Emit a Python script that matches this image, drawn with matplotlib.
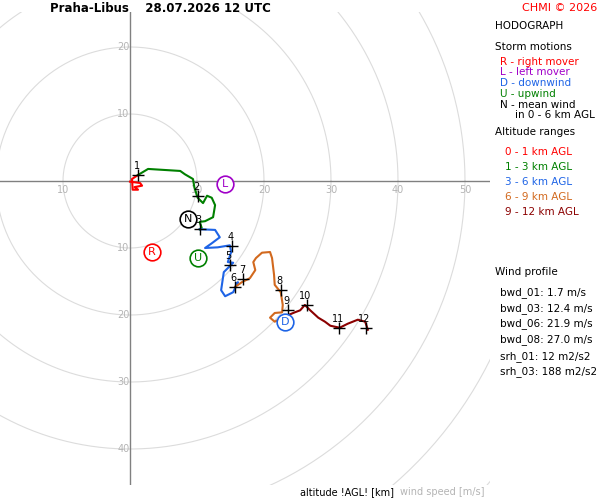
import matplotlib.pyplot as plt
import numpy as np

# hodograph segments (u, v in m/s)
seg_0_1 = [(0.0, -0.1), (1.5, -0.3), (1.8, -0.7), (0.7, -0.9), (1.2, -1.3), (0.4, -1.3), (0.3, 0.3), (1.2, 0.9)]
seg_1_3 = [(1.2, 0.9), (2.7, 1.8), (7.5, 1.5), (8.2, 1.0), (9.4, 0.3), (9.6, -0.9), (10.1, -2.5), (10.9, -3.3),
           (11.5, -2.2), (12.2, -2.5), (12.7, -3.6), (12.4, -5.4), (11.2, -6.0), (10.4, -6.1), (10.7, -7.0), (10.4, -7.2)]
seg_3_6 = [(10.4, -7.2), (12.7, -7.3), (13.4, -8.4), (12.2, -9.3), (11.2, -10.0), (13.1, -9.9), (14.9, -9.6),
           (15.1, -10.6), (14.6, -12.1), (15.4, -12.2), (14.0, -13.6), (13.6, -16.3), (14.2, -17.2), (15.4, -16.6),
           (16.1, -15.1), (15.7, -15.8)]
seg_6_9 = [(15.7, -15.8), (16.7, -15.1), (17.9, -14.5), (18.7, -13.3), (18.4, -12.1), (18.8, -11.5), (19.7, -10.7),
           (20.9, -10.6), (21.2, -11.5), (21.5, -14.0), (21.6, -15.5), (22.5, -16.6), (22.8, -18.5), (22.7, -19.6),
           (21.6, -19.7), (20.9, -20.4), (21.6, -21.0), (22.7, -20.4), (23.4, -20.1)]
seg_9_12 = [(23.4, -20.1), (24.6, -19.6), (25.4, -19.3), (26.1, -18.5), (26.9, -19.3), (28.1, -20.4), (29.1, -21.0),
            (29.9, -21.6), (31.3, -21.9), (32.5, -21.3), (34.0, -20.7), (35.1, -21.0), (35.5, -22.2)]
seg_colors = ['#ff0000', '#008000', '#1e64e6', '#d2691e', '#8b0000']

km_marks = [(1.2, 0.9), (10.1, -2.2), (10.4, -7.2), (15.2, -9.7), (14.9, -12.5), (15.7, -15.8),
            (16.9, -14.6), (22.5, -16.3), (23.6, -19.3), (26.4, -18.5), (31.2, -21.9), (35.2, -21.9)]

storm_labels = ['R', 'L', 'U', 'D', 'N']
storm_uv = [(3.3, -10.6), (14.2, -0.4), (10.1, -11.5), (23.1, -21.0), (8.7, -5.7)]
storm_colors = ['#ff0000', '#a000c8', '#008000', '#1e64e6', '#000000']

wind_profile = ['bwd_01: 1.7 m/s', 'bwd_03: 12.4 m/s', 'bwd_06: 21.9 m/s', 'bwd_08: 27.0 m/s']
srh = ['srh_01: 12 m2/s2', 'srh_03: 188 m2/s2']

fig = plt.figure(figsize=(6, 5), dpi=100)
ax = fig.add_axes([0, 0.03, 490 / 600, 0.946])
s = 6.7  # px per m/s
ax.set_xlim(-130 / s, 360 / s)
ax.set_ylim(-(485 - 181) / s, (181 - 12) / s)
ax.axis('off')

t = np.linspace(0, 2 * np.pi, 400)
for r in range(10, 80, 10):
    ax.plot(r * np.cos(t), r * np.sin(t), color='#dcdcdc', lw=0.8, zorder=1)
ax.axhline(0, color='#808080', lw=1, zorder=2)
ax.axvline(0, color='#808080', lw=1, zorder=2)
for r in [10, 20, 30, 40, 50]:
    ax.text(r, -1.3, str(r), color='#b4b4b4', fontsize=7, ha='center', va='center')
for r in [10]:
    ax.text(-r, -1.3, str(r), color='#b4b4b4', fontsize=7, ha='center', va='center')
for r in [10, 20]:
    ax.text(-1.0, r, str(r), color='#b4b4b4', fontsize=7, ha='center', va='center')
for r in [10, 20, 30, 40]:
    ax.text(-1.0, -r, str(r), color='#b4b4b4', fontsize=7, ha='center', va='center')

for seg, c in zip([seg_0_1, seg_1_3, seg_3_6, seg_6_9, seg_9_12], seg_colors):
    xy = np.array(seg)
    ax.plot(xy[:, 0], xy[:, 1], color=c, lw=1.5, zorder=3)

for i, (u, v) in enumerate(km_marks):
    ax.plot(u, v, marker='+', color='black', ms=9, mew=1, zorder=5)
    ax.text(u - 0.2, v + 0.6, str(i + 1), fontsize=7, ha='center', va='bottom', zorder=5)

for lab, (u, v), c in zip(storm_labels, storm_uv, storm_colors):
    ax.plot(u, v, 'o', ms=12, mfc='white', mec=c, mew=1.2, zorder=6)
    ax.text(u, v, lab, color=c, fontsize=8, ha='center', va='center', zorder=7)

fig.text(50 / 600, 1 - 8 / 500, 'Praha-Libus    28.07.2026 12 UTC', fontsize=8.5, fontweight='bold', va='center')
fig.text(597 / 600, 1 - 8 / 500, 'CHMI © 2026', fontsize=8, color='#ff0000', ha='right', va='center')

X = 495 / 600
def ft(y, txt, **kw):
    fig.text(kw.pop('x', X), 1 - y / 500, txt, fontsize=7.5, va='center', **kw)

ft(26, 'HODOGRAPH')
ft(47, 'Storm motions')
ft(62, 'R - right mover', x=500 / 600, color='#ff0000')
ft(72, 'L - left mover', x=500 / 600, color='#a000c8')
ft(83, 'D - downwind', x=500 / 600, color='#1e64e6')
ft(94, 'U - upwind', x=500 / 600, color='#008000')
ft(105, 'N - mean wind', x=500 / 600)
ft(115, 'in 0 - 6 km AGL', x=515 / 600)
ft(132, 'Altitude ranges')
for j, (txt, c) in enumerate(zip(['0 - 1 km AGL', '1 - 3 km AGL', '3 - 6 km AGL', '6 - 9 km AGL', '9 - 12 km AGL'],
                                 seg_colors)):
    ft(152 + j * 15, txt, x=505 / 600, color=c)
ft(272, 'Wind profile')
for j, txt in enumerate(wind_profile):
    ft(293 + j * 15.5, txt, x=500 / 600)
for j, txt in enumerate(srh):
    ft(357 + j * 15, txt, x=500 / 600)

fig.text(300 / 600, 1 - 492 / 500, 'altitude !AGL! [km]', fontsize=7, va='center')
fig.text(400 / 600, 1 - 492 / 500, 'wind speed [m/s]', fontsize=7, color='#b4b4b4', va='center')

fig.savefig('out.png', dpi=100)
